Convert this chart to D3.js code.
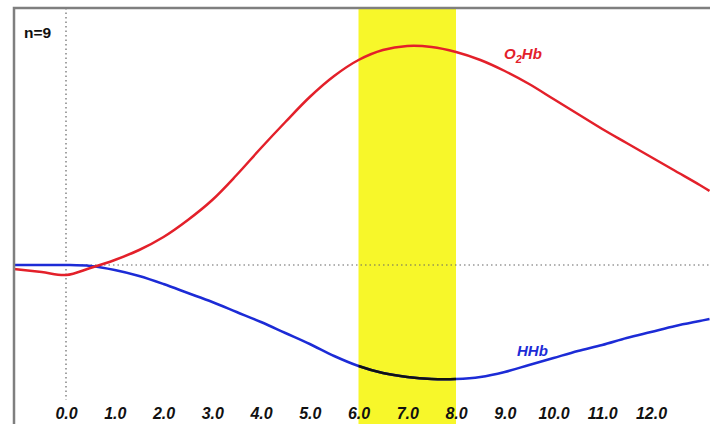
<!DOCTYPE html>
<html>
<head>
<meta charset="utf-8">
<script src="https://cdn.jsdelivr.net/npm/d3@7"></script>
<style>
  html, body { margin: 0; padding: 0; background: #fff; }
  svg { display: block; }
</style>
</head>
<body>
<script>
// Time after stimulus onset (s) and mean concentration changes (n=9)
const times = [-1.07, -0.5, 0, 0.5, 1.0, 1.5, 2.0, 2.5, 3.0, 3.5, 4.0, 4.5, 5.0, 5.5, 6.0, 6.5,
               7.0, 7.5, 8.0, 8.5, 9.0, 9.5, 10.0, 10.5, 11.0, 11.5, 12.0, 12.5, 13.0, 13.2];
const o2hb = [-0.04, -0.07, -0.10, -0.03, 0.05, 0.15, 0.28, 0.45, 0.65, 0.90, 1.17, 1.43, 1.68, 1.89, 2.05, 2.15,
              2.19, 2.18, 2.13, 2.05, 1.94, 1.81, 1.66, 1.51, 1.36, 1.22, 1.08, 0.94, 0.80, 0.74];
const hhb  = [0.0, 0.0, 0.0, -0.01, -0.05, -0.11, -0.19, -0.28, -0.37, -0.47, -0.57, -0.68, -0.79, -0.91, -1.01, -1.08,
              -1.12, -1.14, -1.14, -1.12, -1.07, -1.00, -0.93, -0.86, -0.80, -0.73, -0.67, -0.61, -0.56, -0.54];
const tickValues = [0, 1, 2, 3, 4, 5, 6, 7, 8, 9, 10, 11, 12];
const analysisWindow = [6, 8];    // highlighted analysis window (s)
const sampleLabel = "n=9";

const W = 710, H = 424;
const frameLeft = 14, frameTop = 8;
const FONT = "Liberation Sans, Arial, sans-serif";

const svg = d3.select("body").append("svg").attr("width", W).attr("height", H);

const x = d3.scaleLinear().domain([0, 12]).range([66, 651]);
const y = d3.scaleLinear().domain([0, 2]).range([265, 65]);

// analysis window
svg.append("rect")
  .attr("x", x(analysisWindow[0])).attr("y", frameTop)
  .attr("width", x(analysisWindow[1]) - x(analysisWindow[0])).attr("height", H - frameTop)
  .attr("fill", "#f7f72a");

// zero reference lines
svg.append("line")
  .attr("x1", frameLeft).attr("x2", W).attr("y1", y(0)).attr("y2", y(0))
  .attr("stroke", "#666").attr("stroke-width", 1.2).attr("stroke-dasharray", "1.5,3");
svg.append("line")
  .attr("x1", x(0)).attr("x2", x(0)).attr("y1", frameTop).attr("y2", 400)
  .attr("stroke", "#666").attr("stroke-width", 1.2).attr("stroke-dasharray", "1.5,3");

const line = d3.line().curve(d3.curveCatmullRom.alpha(0.5));
const ptsO = times.map((t, i) => [x(t), y(o2hb[i])]);
const ptsH = times.map((t, i) => [x(t), y(hhb[i])]);

svg.append("path").attr("d", line(ptsH))
  .attr("fill", "none").attr("stroke", "#1c2bd6").attr("stroke-width", 2.5);

// HHb segment inside the window drawn in black
svg.append("clipPath").attr("id", "win")
  .append("rect")
  .attr("x", x(analysisWindow[0])).attr("y", 0)
  .attr("width", x(analysisWindow[1]) - x(analysisWindow[0])).attr("height", H);
svg.append("path").attr("d", line(ptsH)).attr("clip-path", "url(#win)")
  .attr("fill", "none").attr("stroke", "#111").attr("stroke-width", 2.5);

svg.append("path").attr("d", line(ptsO))
  .attr("fill", "none").attr("stroke", "#e3202a").attr("stroke-width", 2.5);

// frame
svg.append("path")
  .attr("d", `M${frameLeft},${H} L${frameLeft},${frameTop} L${W},${frameTop}`)
  .attr("fill", "none").attr("stroke", "#7f7f7f").attr("stroke-width", 2.5);

// x axis labels
const axis = d3.axisBottom(x).tickValues(tickValues).tickFormat(d3.format(".1f"))
  .tickSize(0).tickPadding(3);
const gAxis = svg.append("g").attr("transform", "translate(0,405)").call(axis);
gAxis.select(".domain").remove();
gAxis.selectAll("text")
  .attr("font-family", FONT)
  .attr("font-size", 16).attr("font-weight", "bold").attr("font-style", "italic")
  .attr("fill", "#111");

// labels
svg.append("text").attr("x", 24).attr("y", 38)
  .attr("font-family", FONT)
  .attr("font-size", 15.5).attr("font-weight", "bold").attr("fill", "#111")
  .text(sampleLabel);

const tO = svg.append("text").attr("x", 504).attr("y", 59)
  .attr("font-family", FONT)
  .attr("font-size", 15).attr("font-weight", "bold").attr("font-style", "italic")
  .attr("fill", "#e3202a");
tO.append("tspan").text("O");
tO.append("tspan").attr("dy", 4).attr("font-size", 11).text("2");
tO.append("tspan").attr("dy", -4).text("Hb");

svg.append("text").attr("x", 517).attr("y", 356)
  .attr("font-family", FONT)
  .attr("font-size", 15).attr("font-weight", "bold").attr("font-style", "italic")
  .attr("fill", "#1c2bd6")
  .text("HHb");
</script>
</body>
</html>
